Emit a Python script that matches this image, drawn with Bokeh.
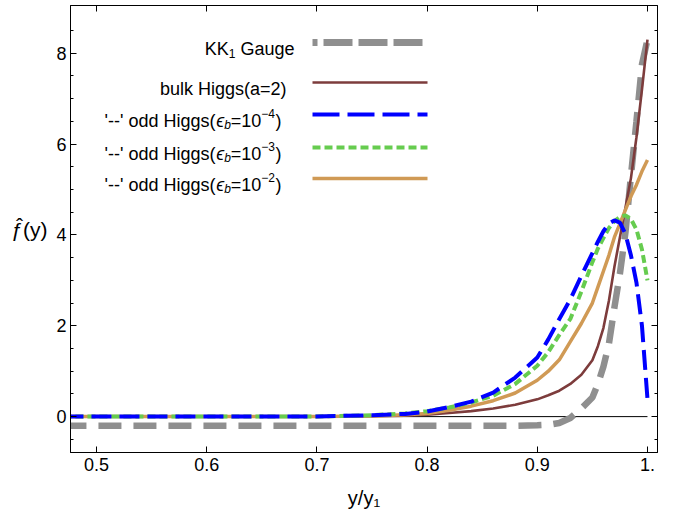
from bokeh.plotting import figure
from bokeh.models import Range1d, LinearAxis, FixedTicker, Label
from bokeh.embed import file_html
from bokeh.resources import INLINE

# ---- data ----
y_over_y1 = [0.47, 0.55, 0.6, 0.65, 0.7, 0.75, 0.78, 0.8, 0.82, 0.84, 0.86, 0.88, 0.9, 0.91,
             0.92, 0.93, 0.94, 0.95, 0.955, 0.96, 0.965, 0.97, 0.975, 0.98, 0.985, 0.99, 0.995, 1.0]
kk1_gauge = [-0.2, -0.2, -0.2, -0.2, -0.2, -0.2, -0.2, -0.2, -0.2, -0.2, -0.2, -0.2, -0.19, -0.18,
             -0.14, -0.03, 0.18, 0.42, 0.72, 1.1, 1.6, 2.4, 3.15, 4.05, 5.3, 6.5, 7.75, 8.3]
bulk_higgs = [0, 0, 0, 0, 0.002, 0.008, 0.02, 0.04, 0.08, 0.12, 0.18, 0.26, 0.38, 0.47,
              0.57, 0.72, 0.92, 1.24, 1.55, 1.95, 2.55, 3.3, 3.95, 4.6, 5.25, 6.15, 7.2, 8.3]
odd_higgs_4 = [0, 0, 0, 0, 0.005, 0.03, 0.06, 0.11, 0.21, 0.33, 0.53, 0.86, 1.3, 1.7,
               2.15, 2.58, 3.1, 3.6, 3.85, 4.08, 4.25, 4.32, 4.27, 4.02, 3.55, 2.95, 2.0, 0.39]
odd_higgs_3 = [0, 0, 0, 0, 0.005, 0.03, 0.07, 0.12, 0.2, 0.31, 0.46, 0.72, 1.12, 1.42,
               1.8, 2.15, 2.75, 3.4, 3.7, 3.93, 4.15, 4.3, 4.4, 4.43, 4.35, 4.12, 3.68, 3.0]
odd_higgs_2 = [0, 0, 0, 0, 0.003, 0.015, 0.04, 0.07, 0.14, 0.23, 0.35, 0.52, 0.8, 1.0,
               1.25, 1.65, 2.05, 2.5, 2.85, 3.2, 3.55, 3.95, 4.25, 4.55, 4.85, 5.1, 5.4, 5.65]

x_ticks = [0.5, 0.6, 0.7, 0.8, 0.9, 1.0]
x_tick_labels = ["0.5", "0.6", "0.7", "0.8", "0.9", "1."]
y_ticks = [0, 2, 4, 6, 8]
y_minor_ticks = [-0.5, 0.5, 1, 1.5, 2.5, 3, 3.5, 4.5, 5, 5.5, 6.5, 7, 7.5, 8.5]

# ---- layout ----
X_LO, X_HI = 0.4764, 1.0091
Y_LO, Y_HI = -0.79, 9.05
W, H = 674, 515
ML, MR, MT = 70, 17, 5
MB = H - 452
FONT = "Liberation Sans"
FS = "18px"
FS_SMALL = "12px"

frame_w = W - ML - MR
frame_h = H - MT - MB


def px_x(px):  # page pixel -> data x
    return X_LO + (px - ML) * (X_HI - X_LO) / frame_w


def px_y(py):  # page pixel -> data y
    return Y_HI - (py - MT) * (Y_HI - Y_LO) / frame_h


p = figure(width=W, height=H, output_backend="svg", toolbar_location=None,
           x_range=Range1d(X_LO, X_HI), y_range=Range1d(Y_LO, Y_HI),
           min_border_left=ML, min_border_right=MR, min_border_top=MT, min_border_bottom=MB)
p.xgrid.visible = False
p.ygrid.visible = False
p.outline_line_color = "black"
p.background_fill_color = "white"
p.border_fill_color = "white"

xt = FixedTicker(ticks=x_ticks, minor_ticks=[])
yt = FixedTicker(ticks=y_ticks, minor_ticks=y_minor_ticks)


def style_axis(ax, labels=True):
    ax.axis_line_color = "black"
    ax.major_tick_line_color = "black"
    ax.minor_tick_line_color = "black"
    ax.major_tick_in = 6
    ax.major_tick_out = 0
    ax.minor_tick_in = 3
    ax.minor_tick_out = 0
    if labels:
        ax.major_label_text_font = FONT
        ax.major_label_text_font_size = FS
        ax.major_label_text_color = "black"
        ax.major_label_standoff = 5
    else:
        ax.major_label_text_font_size = "0px"
        ax.major_label_text_color = None
        ax.major_label_standoff = 0


xa = p.xaxis[0]
xa.ticker = xt
xa.major_label_overrides = dict(zip(x_ticks, x_tick_labels))
style_axis(xa)
xa.axis_label = "y/y\u2081"
xa.axis_label_text_font = FONT
xa.axis_label_text_font_size = "20px"
xa.axis_label_text_font_style = "normal"
xa.axis_label_text_color = "black"
xa.axis_label_standoff = 13

ya = p.yaxis[0]
ya.ticker = yt
style_axis(ya)
ya.major_label_standoff = 4
ya.axis_label = "\u0192\u0302(y)"
ya.axis_label_text_font = FONT
ya.axis_label_text_font_size = "21px"
ya.axis_label_text_font_style = "normal"
ya.axis_label_text_color = "black"
ya.axis_label_standoff = 6
try:
    ya.axis_label_orientation = "horizontal"
except Exception:
    pass

ra = LinearAxis(ticker=yt)
style_axis(ra, labels=False)
p.add_layout(ra, "right")
ta = LinearAxis(ticker=xt)
style_axis(ta, labels=False)
p.add_layout(ta, "above")

# zero axis line
p.line([X_LO, y_over_y1[-1]], [0, 0], line_color="black", line_width=1)

# curves
GRAY, BROWN, BLUE, GREEN, ORANGE = "#8f8f8f", "#7d3c3c", "#0000ff", "#66cc4f", "#d09a55"
p.line(y_over_y1, kk1_gauge, line_color=GRAY, line_width=6.5, line_dash="23 12")
p.line(y_over_y1, bulk_higgs, line_color=BROWN, line_width=2.6)
p.line(y_over_y1, odd_higgs_2, line_color=ORANGE, line_width=3.5)
p.line(y_over_y1, odd_higgs_3, line_color=GREEN, line_width=4, line_dash="8 4")
p.line(y_over_y1, odd_higgs_4, line_color=BLUE, line_width=4, line_dash="20 8")

# ---- legend (manual, Mathematica style: text right-aligned, sample to the right) ----
LX1, LX2 = 312, 427


def lab(px, py, text, dx=0, dy=0, size=FS, style="normal"):
    p.add_layout(Label(x=px_x(px), y=px_y(py), text=text, text_font=FONT, text_font_size=size,
                       text_font_style=style, text_align="right", text_baseline="alphabetic",
                       x_offset=dx, y_offset=dy, text_color="black"))


# row 1
r1 = 42
lab(294, r1 + 6, "Gauge")
lab(294, r1 + 6, "1", dx=-59, dy=-4.5, size=FS_SMALL)
lab(294, r1 + 6, "KK", dx=-65.7)
p.line([px_x(LX1), px_x(LX2)], [px_y(r1)] * 2, line_color=GRAY, line_width=7, line_dash="29 6",
       line_dash_offset=24)
# row 2
r2 = 82
lab(286, r2 + 6, "bulk Higgs(a=2)")
p.line([px_x(LX1), px_x(LX2)], [px_y(r2)] * 2, line_color=BROWN, line_width=2.6)
# rows 3-5
rows = [(114, "\u22124", BLUE, "27 8", 4), (147, "\u22123", GREEN, "8 4", 4), (178, "\u22122", ORANGE, None, 3.5)]
for ry, expo, col, dash, lw in rows:
    b = ry + 6
    lab(281, b, ")")
    lab(281, b, expo, dx=-6.5, dy=7.5, size=FS_SMALL)
    lab(281, b, "=10", dx=-20.2)
    lab(281, b, "b", dx=-50.7, dy=-4.5, size=FS_SMALL, style="italic")
    lab(281, b, "\u03f5", dx=-57.4, style="italic")
    lab(281, b, "'--' odd Higgs(", dx=-66)
    kw = dict(line_color=col, line_width=lw)
    if dash:
        kw["line_dash"] = dash
    p.line([px_x(LX1), px_x(LX2)], [px_y(ry)] * 2, **kw)

open("out.html", "w").write(file_html(p, INLINE))
